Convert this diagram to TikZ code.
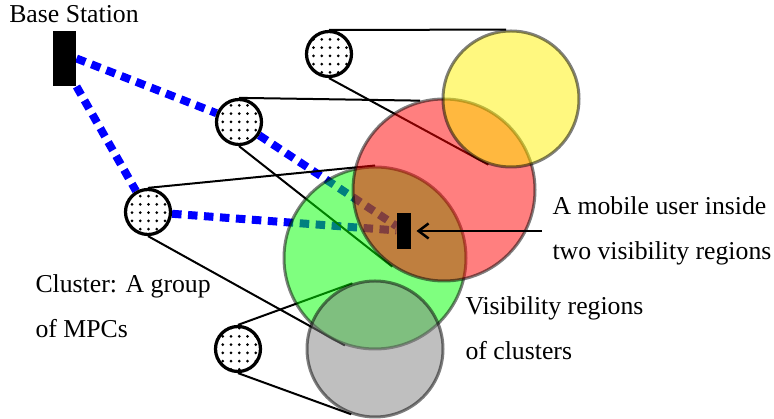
\documentclass[tikz,border=0pt]{standalone}
\usepackage{fontspec}
\setmainfont{Liberation Serif}
\usepackage{tikz}
\usetikzlibrary{arrows.meta,patterns}
\pgfdeclarelayer{bg}
\pgfsetlayers{bg,main}
\pgfdeclarepatternformonly{mpcdots}{\pgfqpoint{-1pt}{-1pt}}{\pgfqpoint{1pt}{1pt}}{\pgfqpoint{3.3pt}{3.3pt}}{\pgfpathcircle{\pgfqpoint{0pt}{0pt}}{.6pt}\pgfusepath{fill}}

\begin{document}
\begin{tikzpicture}[x=0.4pt, y=0.4pt]
    \tikzstyle{cl}=[draw, circle, line width=1.3pt, minimum size=18pt, inner sep=0pt, pattern=mpcdots]
    \tikzstyle{vr}=[draw=black, circle, line width=1.2pt, inner sep=0pt, opacity=0.5]
    \tikzstyle{dev}=[fill=black, inner sep=0pt]
    \tikzstyle{ray}=[blue, line width=3.2pt, dash pattern=on 3.8pt off 2.6pt]
    \tikzstyle{link}=[line width=0.8pt]
    \tikzstyle{lbl}=[font=\fontsize{10.3}{18}\selectfont, align=left, inner sep=4pt]
    \useasboundingbox (0,0) rectangle (774,419);
    \node[dev, minimum width=9.2pt, minimum height=22pt] (bs) at (64.5,360.5) {};
    \node[anchor=base, inner sep=0pt, font=\fontsize{10.3}{12}\selectfont] (bstxt) at (74,396) {Base Station};
    \node[cl] (c1) at (329,365) {};
    \node[cl] (c2) at (239,297) {};
    \node[cl] (c3) at (148,207) {};
    \node[cl] (c4) at (238,70) {};
    \node[vr, fill=green, minimum size=72.8pt] (vgreen) at (375,161) {};
    \node[vr, fill=red, minimum size=72.8pt] (vred) at (444,229) {};
    \node[vr, fill=yellow, minimum size=54.4pt] (vyellow) at (511,320) {};
    \node[vr, fill=gray, minimum size=54.4pt] (vgray) at (375,70) {};
    \node[dev, minimum width=5.6pt, minimum height=14.4pt] (mu) at (404,188) {};
    \node[lbl, anchor=west] (mutxt) at (542,188) {A mobile user inside\\two visibility regions};
    \node[lbl, anchor=west] (cltxt) at (25,113) {Cluster: A group\\of MPCs};
    \node[lbl, anchor=west] (vrtxt) at (455,91) {Visibility regions\\of clusters};
    \draw[-{Straight Barb[length=4pt,width=6pt]}, line width=1pt, shorten >=2pt] (mutxt.west) -- (mu.east);
    \begin{pgfonlayer}{bg}
        \draw[ray] (bs.east) -- (c2);
        \draw[ray] (bs.south east) -- (c3);
        \draw[ray] (c2) -- (mu);
        \draw[ray] (c3) -- (mu);
        \draw[link] (c1.north) -- (vyellow.94);
        \draw[link] (c1.south) -- (vyellow.251);
        \draw[link] (c2.north) -- (vred.105);
        \draw[link] (c2.south) -- (vred.236);
        \draw[link] (c3.north) -- (vgreen.90);
        \draw[link] (c3.south) -- (vgreen.251);
        \draw[link] (c4.north) -- (vgray.109);
        \draw[link] (c4.south) -- (vgray.250);
    \end{pgfonlayer}
\end{tikzpicture}
\end{document}
